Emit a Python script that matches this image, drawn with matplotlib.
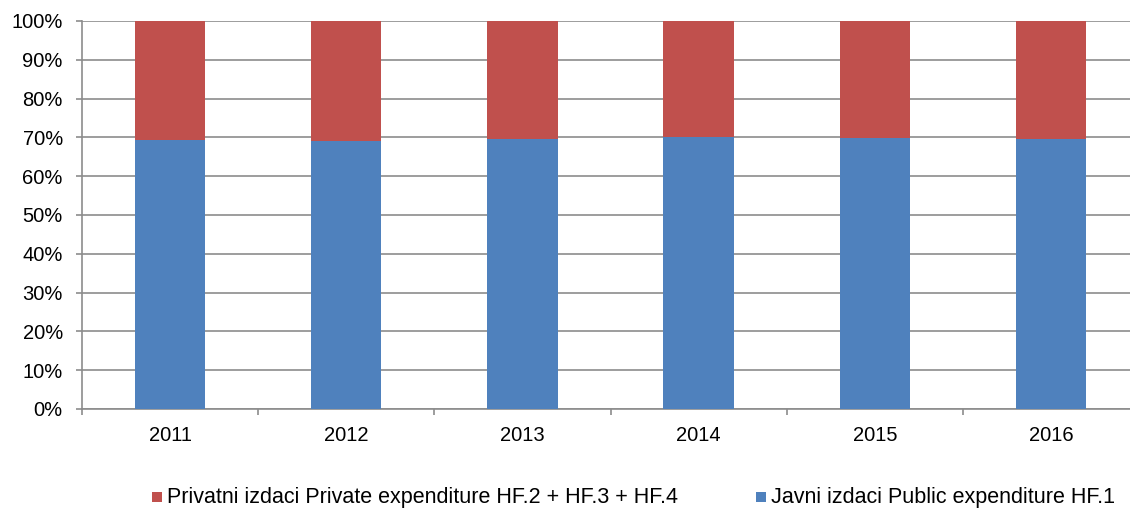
import matplotlib.pyplot as plt
import numpy as np
from matplotlib.patches import Rectangle
from matplotlib.ticker import PercentFormatter

plt.rcParams['font.family'] = ['Liberation Sans', 'DejaVu Sans']

# data
years = ['2011', '2012', '2013', '2014', '2015', '2016']
public_share = [69.4, 69.1, 69.7, 70.0, 69.8, 69.7]
private_share = [100 - v for v in public_share]

label_private = 'Privatni izdaci Private expenditure HF.2 + HF.3 + HF.4'
label_public = 'Javni izdaci Public expenditure HF.1'
col_public = '#4f81bd'
col_private = '#c0504d'

W, H = 1130, 509
fig = plt.figure(figsize=(W / 100, H / 100), dpi=100)
# axes runs a little past the right edge, as in the reference
ax = fig.add_axes([82 / W, 1 - 409 / H, 1057 / W, 388 / H])

x = np.arange(len(years))
ax.bar(x, public_share, width=0.4, color=col_public, zorder=3)
ax.bar(x, private_share, width=0.4, bottom=public_share, color=col_private, zorder=3)

ax.set_xlim(-0.5, len(years) - 0.5)
ax.set_ylim(0, 100)
ax.set_yticks(np.arange(0, 101, 10))
ax.yaxis.set_major_formatter(PercentFormatter(decimals=0))
ax.grid(axis='y', color='#8c8c8c', linewidth=1.2, zorder=0)

# category labels centred, tick marks on the boundaries
ax.set_xticks(x)
ax.set_xticklabels(years)
ax.tick_params(axis='x', length=0, pad=12, labelsize=14.5)
ax.set_xticks(np.arange(-0.5, len(years)), minor=True)
ax.tick_params(axis='x', which='minor', length=4.3, color='#8c8c8c', width=1.2)
ax.tick_params(axis='y', length=4.3, color='#8c8c8c', width=1.2, labelsize=14.5, pad=9.5)

for side in ['top', 'right']:
    ax.spines[side].set_visible(False)
for side in ['left', 'bottom']:
    ax.spines[side].set_color('#8c8c8c')
    ax.spines[side].set_linewidth(1.2)

# legend below the plot
ly = 1 - 497 / H
for sx, tx, col, lab in [(152, 167, col_private, label_private),
                         (756, 771, col_public, label_public)]:
    fig.add_artist(Rectangle((sx / W, ly - 5 / H), 10 / W, 10 / H,
                             transform=fig.transFigure, color=col, lw=0))
    fig.text(tx / W, ly, lab, fontsize=15.5, va='center')

fig.savefig('out.png', dpi=100)
